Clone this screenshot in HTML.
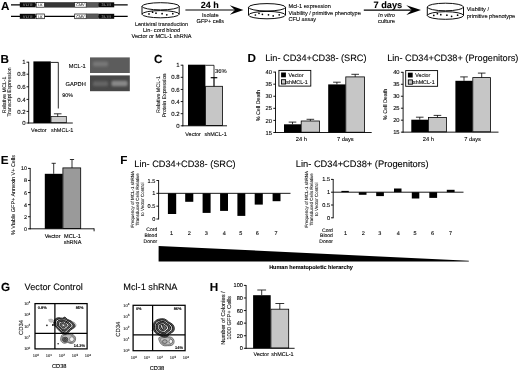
<!DOCTYPE html>
<html lang="en">
<head>
<meta charset="utf-8">
<title>Figure</title>
<style>
html,body{margin:0;padding:0;background:#fff;}
body{width:520px;height:371px;overflow:hidden;}
svg{display:block;font-family:"Liberation Sans",sans-serif;fill:#000;text-rendering:geometricPrecision;}
text{stroke:#000;stroke-width:0.1px;}
</style>
</head>
<body>
<svg width="520" height="371" viewBox="0 0 520 371">
<defs>
<pattern id="stip" width="1.6" height="1.6" patternUnits="userSpaceOnUse"><rect width="1.6" height="1.6" fill="#2c2c2c"/><circle cx="0.8" cy="0.8" r="0.38" fill="#707070"/></pattern>
<pattern id="stip2" width="1.6" height="1.6" patternUnits="userSpaceOnUse"><rect width="1.6" height="1.6" fill="#4e4e4e"/><circle cx="0.8" cy="0.8" r="0.38" fill="#9a9a9a"/></pattern>
<pattern id="stip3" width="1.6" height="1.6" patternUnits="userSpaceOnUse"><rect width="1.6" height="1.6" fill="#d2d2d2"/><circle cx="0.8" cy="0.8" r="0.35" fill="#aaa"/></pattern>
<filter id="b1" x="-20%" y="-50%" width="140%" height="200%"><feGaussianBlur stdDeviation="0.9"/></filter>
<filter id="b2" x="-30%" y="-30%" width="160%" height="160%"><feGaussianBlur stdDeviation="1.2"/></filter>
</defs>
<rect width="520" height="371" fill="#fff"/>
<text x="0.9" y="9.6" font-size="11.7" font-weight="bold">A</text>
<text x="0.6" y="62.6" font-size="11.7" font-weight="bold">B</text>
<text x="154.0" y="63.3" font-size="11.7" font-weight="bold">C</text>
<text x="247.6" y="62.3" font-size="11.7" font-weight="bold">D</text>
<text x="0.8" y="164.1" font-size="11.7" font-weight="bold">E</text>
<text x="120.2" y="163.8" font-size="11.7" font-weight="bold">F</text>
<text x="0.9" y="291.4" font-size="11.7" font-weight="bold">G</text>
<text x="209.8" y="291" font-size="11.7" font-weight="bold">H</text>
<line x1="11.00" y1="4.80" x2="127.70" y2="4.80" stroke="#000" stroke-width="1.15"/>
<rect x="19.80" y="2.30" width="15.80" height="5.00" fill="#0a0a0a"/>
<text x="27.7" y="6.15" font-size="3.8" text-anchor="middle" fill="#ddd" stroke="none">5'LTR</text>
<rect x="36.20" y="2.50" width="8.40" height="4.70" fill="#fff" stroke="#111" stroke-width="0.7"/>
<text x="40.4" y="6.1" font-size="3.4" text-anchor="middle" fill="#777" stroke="none">LK</text>
<rect x="44.90" y="2.40" width="29.50" height="4.80" fill="url(#stip)" stroke="#333" stroke-width="0.5"/>
<rect x="74.70" y="2.50" width="11.50" height="4.70" fill="#fff" stroke="#111" stroke-width="0.7"/>
<text x="80.4" y="6.199999999999999" font-size="3.8" text-anchor="middle" fill="#777" stroke="none">CMV</text>
<rect x="86.50" y="2.40" width="12.20" height="4.80" fill="url(#stip2)" stroke="#333" stroke-width="0.5"/>
<rect x="98.70" y="2.30" width="15.50" height="5.00" fill="#0a0a0a"/>
<text x="106.4" y="6.15" font-size="3.8" text-anchor="middle" fill="#ddd" stroke="none">3'LTR</text>
<line x1="11.00" y1="16.30" x2="127.70" y2="16.30" stroke="#000" stroke-width="1.15"/>
<rect x="19.80" y="13.80" width="15.80" height="5.00" fill="#0a0a0a"/>
<text x="27.7" y="17.650000000000002" font-size="3.8" text-anchor="middle" fill="#ddd" stroke="none">5'LTR</text>
<rect x="36.20" y="14.00" width="8.40" height="4.70" fill="#fff" stroke="#111" stroke-width="0.7"/>
<text x="40.4" y="17.6" font-size="3.4" text-anchor="middle" fill="#777" stroke="none">LK</text>
<rect x="74.70" y="14.00" width="11.50" height="4.70" fill="#fff" stroke="#111" stroke-width="0.7"/>
<text x="80.4" y="17.7" font-size="3.8" text-anchor="middle" fill="#777" stroke="none">CMV</text>
<rect x="86.50" y="13.90" width="12.20" height="4.80" fill="url(#stip2)" stroke="#333" stroke-width="0.5"/>
<rect x="98.70" y="13.80" width="15.50" height="5.00" fill="#0a0a0a"/>
<text x="106.4" y="17.650000000000002" font-size="3.8" text-anchor="middle" fill="#ddd" stroke="none">3'LTR</text>
<ellipse cx="160.6" cy="14.2" rx="18.6" ry="3.6" fill="#fff" stroke="#000" stroke-width="0.95"/>
<line x1="142.00" y1="6.30" x2="142.00" y2="14.20" stroke="#000" stroke-width="0.95"/>
<line x1="179.20" y1="6.30" x2="179.20" y2="14.20" stroke="#000" stroke-width="0.95"/>
<ellipse cx="160.6" cy="6.3" rx="18.6" ry="3.6" fill="none" stroke="#000" stroke-width="0.95"/>
<circle cx="149.0" cy="13.9" r="0.85" fill="#000"/>
<circle cx="152.6" cy="12.2" r="0.85" fill="#000"/>
<circle cx="156.0" cy="13.2" r="0.85" fill="#000"/>
<circle cx="162.1" cy="13.7" r="0.85" fill="#000"/>
<circle cx="166.8" cy="14.8" r="0.85" fill="#000"/>
<circle cx="172.8" cy="13.7" r="0.85" fill="#000"/>
<ellipse cx="267" cy="15.1" rx="18.5" ry="3.7" fill="#fff" stroke="#000" stroke-width="0.95"/>
<line x1="248.50" y1="7.30" x2="248.50" y2="15.10" stroke="#000" stroke-width="0.95"/>
<line x1="285.50" y1="7.30" x2="285.50" y2="15.10" stroke="#000" stroke-width="0.95"/>
<ellipse cx="267" cy="7.3" rx="18.5" ry="3.7" fill="none" stroke="#000" stroke-width="0.95"/>
<circle cx="255.4" cy="15.0" r="0.85" fill="#000"/>
<circle cx="259.0" cy="13.3" r="0.85" fill="#000"/>
<circle cx="262.4" cy="14.3" r="0.85" fill="#000"/>
<circle cx="268.5" cy="14.8" r="0.85" fill="#000"/>
<circle cx="273.2" cy="15.9" r="0.85" fill="#000"/>
<circle cx="279.2" cy="14.8" r="0.85" fill="#000"/>
<ellipse cx="445.4" cy="15.5" rx="18.1" ry="3.8" fill="#fff" stroke="#000" stroke-width="0.95"/>
<line x1="427.30" y1="7.00" x2="427.30" y2="15.50" stroke="#000" stroke-width="0.95"/>
<line x1="463.50" y1="7.00" x2="463.50" y2="15.50" stroke="#000" stroke-width="0.95"/>
<ellipse cx="445.4" cy="7.0" rx="18.1" ry="3.8" fill="none" stroke="#000" stroke-width="0.95"/>
<circle cx="433.8" cy="15.4" r="0.85" fill="#000"/>
<circle cx="437.4" cy="13.7" r="0.85" fill="#000"/>
<circle cx="440.8" cy="14.7" r="0.85" fill="#000"/>
<circle cx="446.9" cy="15.2" r="0.85" fill="#000"/>
<circle cx="451.6" cy="16.3" r="0.85" fill="#000"/>
<circle cx="457.6" cy="15.2" r="0.85" fill="#000"/>
<text x="161.5" y="26.0" font-size="5.45" text-anchor="middle">Lentiviral transduction</text>
<text x="161.5" y="31.9" font-size="5.6" text-anchor="middle">Lin- cord blood</text>
<text x="161.5" y="38.1" font-size="5.6" text-anchor="middle">Vector or MCL-1 shRNA</text>
<line x1="185.40" y1="10.00" x2="236.00" y2="10.00" stroke="#000" stroke-width="1.1"/>
<polygon points="243.4,10.0 229.8,5.2 235.0,10.0 229.8,14.8" fill="#000"/>
<line x1="363.80" y1="10.10" x2="412.80" y2="10.10" stroke="#000" stroke-width="1.1"/>
<polygon points="421.0,10.1 406.3,5.3 411.8,10.1 406.3,14.899999999999999" fill="#000"/>
<text x="209.7" y="7.7" font-size="9" text-anchor="middle" font-weight="bold">24 h</text>
<text x="387.9" y="7.7" font-size="9.2" text-anchor="middle" font-weight="bold">7 days</text>
<text x="210.3" y="17.0" font-size="5.6" text-anchor="middle">Isolate</text>
<text x="210.3" y="23.0" font-size="5.6" text-anchor="middle">GFP+ cells</text>
<text x="386.5" y="16.6" font-size="5.6" text-anchor="middle" font-style="italic">In vitro</text>
<text x="386.5" y="23.2" font-size="5.6" text-anchor="middle">culture</text>
<text x="288.5" y="7.8" font-size="5.6">Mcl-1 expression</text>
<text x="288.5" y="14.6" font-size="5.6">Viability / primitive phenotype</text>
<text x="288.5" y="21.2" font-size="5.6">CFU assay</text>
<text x="466.7" y="11.3" font-size="5.6">Viability /</text>
<text x="466.7" y="18.1" font-size="5.6">primitive phenotype</text>
<rect x="33.40" y="61.40" width="17.40" height="61.60" fill="#000"/>
<rect x="51.00" y="116.60" width="15.30" height="6.10" fill="url(#stip3)" stroke="#000" stroke-width="0.7"/>
<line x1="57.70" y1="113.80" x2="57.70" y2="116.60" stroke="#000" stroke-width="0.8"/>
<line x1="53.90" y1="113.80" x2="61.50" y2="113.80" stroke="#000" stroke-width="0.8"/>
<line x1="28.70" y1="61.80" x2="28.70" y2="123.45" stroke="#000" stroke-width="0.9"/>
<line x1="26.50" y1="62.20" x2="28.70" y2="62.20" stroke="#000" stroke-width="0.9"/>
<text x="25.5" y="64.36" font-size="6.0" text-anchor="end">1</text>
<line x1="26.50" y1="74.20" x2="28.70" y2="74.20" stroke="#000" stroke-width="0.9"/>
<text x="25.5" y="76.36" font-size="6.0" text-anchor="end">0.8</text>
<line x1="26.50" y1="86.80" x2="28.70" y2="86.80" stroke="#000" stroke-width="0.9"/>
<text x="25.5" y="88.96" font-size="6.0" text-anchor="end">0.6</text>
<line x1="26.50" y1="99.40" x2="28.70" y2="99.40" stroke="#000" stroke-width="0.9"/>
<text x="25.5" y="101.56" font-size="6.0" text-anchor="end">0.4</text>
<line x1="26.50" y1="111.40" x2="28.70" y2="111.40" stroke="#000" stroke-width="0.9"/>
<text x="25.5" y="113.56" font-size="6.0" text-anchor="end">0.2</text>
<line x1="26.50" y1="123.00" x2="28.70" y2="123.00" stroke="#000" stroke-width="0.9"/>
<text x="25.5" y="125.16" font-size="6.0" text-anchor="end">0</text>
<line x1="28.25" y1="123.00" x2="72.80" y2="123.00" stroke="#000" stroke-width="0.9"/>
<path d="M50.8 62.4 H58.3 V108.5" fill="none" stroke="#000" stroke-width="0.85" />
<text x="62.3" y="96.6" font-size="5.4">90%</text>
<text x="38.9" y="131.8" font-size="5.5" text-anchor="middle">Vector</text>
<text x="62.2" y="131.8" font-size="5.5" text-anchor="middle">shMCL-1</text>
<text x="6.3" y="94.9" font-size="5.3" text-anchor="middle" textLength="36.6" lengthAdjust="spacingAndGlyphs" stroke="none" fill="#262626" transform="rotate(-90 6.3 94.9)">Relative MCL-1</text>
<text x="11.2" y="92.0" font-size="5.3" text-anchor="middle" textLength="49.2" lengthAdjust="spacingAndGlyphs" stroke="none" fill="#262626" transform="rotate(-90 11.2 92.0)">Transcript Expression</text>
<rect x="90.00" y="57.40" width="39.80" height="15.60" fill="#5c5c5c"/>
<rect x="93" y="61.4" width="15" height="5" rx="1.5" fill="#777" filter="url(#b1)"/>
<rect x="90.00" y="75.40" width="39.80" height="15.80" fill="#484848"/>
<rect x="93" y="81.2" width="15" height="5" rx="1.5" fill="#656565" filter="url(#b1)"/>
<rect x="111.5" y="80.8" width="16" height="5.4" rx="1.5" fill="#888" filter="url(#b1)"/>
<text x="85.8" y="68.4" font-size="5.7" text-anchor="end">MCL-1</text>
<text x="85.8" y="85.6" font-size="5.7" text-anchor="end">GAPDH</text>
<rect x="188.00" y="64.70" width="17.40" height="61.10" fill="#000"/>
<rect x="205.60" y="86.30" width="16.90" height="39.20" fill="#c6c6c6" stroke="#000" stroke-width="0.8"/>
<line x1="214.00" y1="77.70" x2="214.00" y2="86.30" stroke="#000" stroke-width="1.2"/>
<line x1="210.70" y1="77.70" x2="217.30" y2="77.70" stroke="#000" stroke-width="1.2"/>
<line x1="182.90" y1="64.80" x2="182.90" y2="126.25" stroke="#000" stroke-width="0.9"/>
<line x1="180.70" y1="65.20" x2="182.90" y2="65.20" stroke="#000" stroke-width="0.9"/>
<text x="179.7" y="67.36" font-size="6.0" text-anchor="end">1</text>
<line x1="180.70" y1="77.32" x2="182.90" y2="77.32" stroke="#000" stroke-width="0.9"/>
<text x="179.7" y="79.48" font-size="6.0" text-anchor="end">0.8</text>
<line x1="180.70" y1="89.44" x2="182.90" y2="89.44" stroke="#000" stroke-width="0.9"/>
<text x="179.7" y="91.6" font-size="6.0" text-anchor="end">0.6</text>
<line x1="180.70" y1="101.56" x2="182.90" y2="101.56" stroke="#000" stroke-width="0.9"/>
<text x="179.7" y="103.72" font-size="6.0" text-anchor="end">0.4</text>
<line x1="180.70" y1="113.68" x2="182.90" y2="113.68" stroke="#000" stroke-width="0.9"/>
<text x="179.7" y="115.84" font-size="6.0" text-anchor="end">0.2</text>
<line x1="180.70" y1="125.80" x2="182.90" y2="125.80" stroke="#000" stroke-width="0.9"/>
<text x="179.7" y="127.96" font-size="6.0" text-anchor="end">0</text>
<line x1="182.45" y1="125.80" x2="227.00" y2="125.80" stroke="#000" stroke-width="0.9"/>
<path d="M205.4 65.3 H214 V77.7" fill="none" stroke="#000" stroke-width="0.8" />
<text x="215.0" y="73.2" font-size="5.8">36%</text>
<text x="193.0" y="136.4" font-size="5.5" text-anchor="middle">Vector</text>
<text x="215.6" y="136.4" font-size="5.5" text-anchor="middle">shMCL-1</text>
<text x="159.6" y="94.5" font-size="5.3" text-anchor="middle" textLength="36.8" lengthAdjust="spacingAndGlyphs" stroke="none" fill="#262626" transform="rotate(-90 159.6 94.5)">Relative MCL-1</text>
<text x="165.6" y="95.5" font-size="5.25" text-anchor="middle" stroke="none" fill="#262626" transform="rotate(-90 165.6 95.5)">Protein Expression</text>
<text x="265.2" y="60.8" font-size="9.2">Lin- CD34+CD38- (SRC)</text>
<text x="387.2" y="60.5" font-size="9.2">Lin- CD34+CD38+ (Progenitors)</text>
<rect x="284.00" y="124.30" width="17.00" height="8.20" fill="#000"/>
<line x1="292.50" y1="122.10" x2="292.50" y2="124.30" stroke="#000" stroke-width="0.8"/>
<line x1="288.70" y1="122.10" x2="296.30" y2="122.10" stroke="#000" stroke-width="0.8"/>
<rect x="301.20" y="121.00" width="18.20" height="11.20" fill="#c6c6c6" stroke="#000" stroke-width="0.8"/>
<line x1="310.35" y1="119.30" x2="310.35" y2="121.00" stroke="#000" stroke-width="0.8"/>
<line x1="306.55" y1="119.30" x2="314.15" y2="119.30" stroke="#000" stroke-width="0.8"/>
<rect x="328.20" y="84.40" width="17.40" height="48.10" fill="#000"/>
<line x1="336.90" y1="82.20" x2="336.90" y2="84.40" stroke="#000" stroke-width="0.8"/>
<line x1="333.10" y1="82.20" x2="340.70" y2="82.20" stroke="#000" stroke-width="0.8"/>
<rect x="345.80" y="76.90" width="18.70" height="55.30" fill="#c6c6c6" stroke="#000" stroke-width="0.8"/>
<line x1="355.20" y1="74.30" x2="355.20" y2="76.90" stroke="#000" stroke-width="0.8"/>
<line x1="351.40" y1="74.30" x2="359.00" y2="74.30" stroke="#000" stroke-width="0.8"/>
<line x1="275.50" y1="71.70" x2="275.50" y2="132.95" stroke="#000" stroke-width="0.9"/>
<line x1="273.30" y1="72.10" x2="275.50" y2="72.10" stroke="#000" stroke-width="0.9"/>
<text x="272.0" y="74.19" font-size="5.8" text-anchor="end">40</text>
<line x1="273.30" y1="84.18" x2="275.50" y2="84.18" stroke="#000" stroke-width="0.9"/>
<text x="272.0" y="86.27" font-size="5.8" text-anchor="end">35</text>
<line x1="273.30" y1="96.26" x2="275.50" y2="96.26" stroke="#000" stroke-width="0.9"/>
<text x="272.0" y="98.35" font-size="5.8" text-anchor="end">30</text>
<line x1="273.30" y1="108.34" x2="275.50" y2="108.34" stroke="#000" stroke-width="0.9"/>
<text x="272.0" y="110.43" font-size="5.8" text-anchor="end">25</text>
<line x1="273.30" y1="120.42" x2="275.50" y2="120.42" stroke="#000" stroke-width="0.9"/>
<text x="272.0" y="122.51" font-size="5.8" text-anchor="end">20</text>
<line x1="273.30" y1="132.50" x2="275.50" y2="132.50" stroke="#000" stroke-width="0.9"/>
<text x="272.0" y="134.59" font-size="5.8" text-anchor="end">15</text>
<line x1="275.05" y1="132.50" x2="371.70" y2="132.50" stroke="#000" stroke-width="0.9"/>
<rect x="278.90" y="70.40" width="31.90" height="15.70" fill="#fff" stroke="#000" stroke-width="0.9"/>
<rect x="281.10" y="72.50" width="4.80" height="4.80" fill="#000"/>
<rect x="281.50" y="79.70" width="4.10" height="4.30" fill="#c6c6c6" stroke="#000" stroke-width="0.9"/>
<text x="288.5" y="77.0" font-size="5.3">Vector</text>
<text x="286.29999999999995" y="84.0" font-size="5.3">shMCL-1</text>
<text x="301.4" y="141.1" font-size="5.7" text-anchor="middle">24 h</text>
<text x="345.3" y="141.1" font-size="5.7" text-anchor="middle">7 days</text>
<text x="260.4" y="105.6" font-size="5.4" text-anchor="middle" stroke="none" fill="#262626" transform="rotate(-90 260.4 105.6)">% Cell Death</text>
<rect x="411.30" y="119.70" width="16.90" height="12.45" fill="#000"/>
<line x1="419.75" y1="117.20" x2="419.75" y2="119.70" stroke="#000" stroke-width="0.8"/>
<line x1="415.95" y1="117.20" x2="423.55" y2="117.20" stroke="#000" stroke-width="0.8"/>
<rect x="428.40" y="117.40" width="18.00" height="14.45" fill="#c6c6c6" stroke="#000" stroke-width="0.8"/>
<line x1="437.45" y1="115.40" x2="437.45" y2="117.40" stroke="#000" stroke-width="0.8"/>
<line x1="433.65" y1="115.40" x2="441.25" y2="115.40" stroke="#000" stroke-width="0.8"/>
<rect x="455.40" y="80.80" width="17.20" height="51.35" fill="#000"/>
<line x1="464.00" y1="76.90" x2="464.00" y2="80.80" stroke="#000" stroke-width="0.8"/>
<line x1="460.20" y1="76.90" x2="467.80" y2="76.90" stroke="#000" stroke-width="0.8"/>
<rect x="472.80" y="77.60" width="17.70" height="54.25" fill="#c6c6c6" stroke="#000" stroke-width="0.8"/>
<line x1="481.70" y1="73.10" x2="481.70" y2="77.60" stroke="#000" stroke-width="0.8"/>
<line x1="477.90" y1="73.10" x2="485.50" y2="73.10" stroke="#000" stroke-width="0.8"/>
<line x1="403.10" y1="71.90" x2="403.10" y2="132.60" stroke="#000" stroke-width="0.9"/>
<line x1="400.90" y1="72.30" x2="403.10" y2="72.30" stroke="#000" stroke-width="0.9"/>
<text x="399.6" y="74.39" font-size="5.8" text-anchor="end">40</text>
<line x1="400.90" y1="84.27" x2="403.10" y2="84.27" stroke="#000" stroke-width="0.9"/>
<text x="399.6" y="86.36" font-size="5.8" text-anchor="end">35</text>
<line x1="400.90" y1="96.24" x2="403.10" y2="96.24" stroke="#000" stroke-width="0.9"/>
<text x="399.6" y="98.33" font-size="5.8" text-anchor="end">30</text>
<line x1="400.90" y1="108.21" x2="403.10" y2="108.21" stroke="#000" stroke-width="0.9"/>
<text x="399.6" y="110.3" font-size="5.8" text-anchor="end">25</text>
<line x1="400.90" y1="120.18" x2="403.10" y2="120.18" stroke="#000" stroke-width="0.9"/>
<text x="399.6" y="122.27" font-size="5.8" text-anchor="end">20</text>
<line x1="400.90" y1="132.15" x2="403.10" y2="132.15" stroke="#000" stroke-width="0.9"/>
<text x="399.6" y="134.24" font-size="5.8" text-anchor="end">15</text>
<line x1="402.65" y1="132.15" x2="498.50" y2="132.15" stroke="#000" stroke-width="0.9"/>
<rect x="405.70" y="70.60" width="31.90" height="15.70" fill="#fff" stroke="#000" stroke-width="0.9"/>
<rect x="407.90" y="72.70" width="4.80" height="4.80" fill="#000"/>
<rect x="408.30" y="79.90" width="4.10" height="4.30" fill="#c6c6c6" stroke="#000" stroke-width="0.9"/>
<text x="415.3" y="77.2" font-size="5.3">Vector</text>
<text x="413.09999999999997" y="84.2" font-size="5.3">shMCL-1</text>
<text x="428.4" y="141.1" font-size="5.7" text-anchor="middle">24 h</text>
<text x="472.6" y="141.1" font-size="5.7" text-anchor="middle">7 days</text>
<text x="387.0" y="104.4" font-size="5.4" text-anchor="middle" stroke="none" fill="#262626" transform="rotate(-90 387.0 104.4)">% Cell Death</text>
<rect x="44.80" y="173.80" width="17.90" height="55.00" fill="#000"/>
<rect x="62.90" y="167.90" width="17.80" height="60.60" fill="#9a9a9a" stroke="#000" stroke-width="0.8"/>
<line x1="53.70" y1="163.30" x2="53.70" y2="173.80" stroke="#000" stroke-width="0.8"/>
<line x1="51.60" y1="163.30" x2="55.80" y2="163.30" stroke="#000" stroke-width="0.8"/>
<line x1="72.00" y1="159.50" x2="72.00" y2="167.90" stroke="#000" stroke-width="0.8"/>
<line x1="69.90" y1="159.50" x2="74.10" y2="159.50" stroke="#000" stroke-width="0.8"/>
<line x1="30.20" y1="168.00" x2="30.20" y2="229.25" stroke="#000" stroke-width="0.9"/>
<line x1="28.00" y1="168.40" x2="30.20" y2="168.40" stroke="#000" stroke-width="0.9"/>
<text x="27.0" y="170.34" font-size="5.4" text-anchor="end">10</text>
<line x1="28.00" y1="180.48" x2="30.20" y2="180.48" stroke="#000" stroke-width="0.9"/>
<text x="27.0" y="182.42" font-size="5.4" text-anchor="end">8</text>
<line x1="28.00" y1="192.56" x2="30.20" y2="192.56" stroke="#000" stroke-width="0.9"/>
<text x="27.0" y="194.5" font-size="5.4" text-anchor="end">6</text>
<line x1="28.00" y1="204.64" x2="30.20" y2="204.64" stroke="#000" stroke-width="0.9"/>
<text x="27.0" y="206.58" font-size="5.4" text-anchor="end">4</text>
<line x1="28.00" y1="216.72" x2="30.20" y2="216.72" stroke="#000" stroke-width="0.9"/>
<text x="27.0" y="218.66" font-size="5.4" text-anchor="end">2</text>
<line x1="28.00" y1="228.80" x2="30.20" y2="228.80" stroke="#000" stroke-width="0.9"/>
<text x="27.0" y="230.74" font-size="5.4" text-anchor="end">0</text>
<line x1="29.75" y1="228.80" x2="94.10" y2="228.80" stroke="#000" stroke-width="0.9"/>
<line x1="94.10" y1="228.40" x2="94.10" y2="231.30" stroke="#000" stroke-width="0.9"/>
<text x="52.6" y="237.6" font-size="5.6" text-anchor="middle">Vector</text>
<text x="72.5" y="237.6" font-size="5.6" text-anchor="middle">MCL-1</text>
<text x="72.5" y="243.8" font-size="5.6" text-anchor="middle">shRNA</text>
<text x="14.5" y="195.0" font-size="5.45" text-anchor="middle" stroke="none" fill="#262626" transform="rotate(-90 14.5 195.0)">% Viable GFP+ Annexin V+ Cells</text>
<text x="134.3" y="167.0" font-size="9.2">Lin- CD34+CD38- (SRC)</text>
<text x="295.8" y="166.7" font-size="9.3">Lin- CD34+CD38+ (Progenitors)</text>
<rect x="167.90" y="193.33" width="8.30" height="20.67" fill="#000"/>
<rect x="185.20" y="193.33" width="8.10" height="8.47" fill="#000"/>
<rect x="202.60" y="193.33" width="8.00" height="19.57" fill="#000"/>
<rect x="220.10" y="193.33" width="7.90" height="17.57" fill="#000"/>
<rect x="237.40" y="193.33" width="7.90" height="22.57" fill="#000"/>
<rect x="254.70" y="193.33" width="8.10" height="11.27" fill="#000"/>
<rect x="272.60" y="193.33" width="7.90" height="7.87" fill="#000"/>
<line x1="158.60" y1="193.33" x2="290.50" y2="193.33" stroke="#000" stroke-width="0.9"/>
<line x1="158.60" y1="180.10" x2="158.60" y2="219.45" stroke="#000" stroke-width="0.9"/>
<line x1="156.40" y1="180.50" x2="158.60" y2="180.50" stroke="#000" stroke-width="0.9"/>
<text x="155.4" y="182.52" font-size="5.6" text-anchor="end">1.5</text>
<line x1="156.40" y1="193.33" x2="158.60" y2="193.33" stroke="#000" stroke-width="0.9"/>
<text x="155.4" y="195.35" font-size="5.6" text-anchor="end">1</text>
<line x1="156.40" y1="206.17" x2="158.60" y2="206.17" stroke="#000" stroke-width="0.9"/>
<text x="155.4" y="208.18" font-size="5.6" text-anchor="end">0.5</text>
<line x1="156.40" y1="219.00" x2="158.60" y2="219.00" stroke="#000" stroke-width="0.9"/>
<text x="155.4" y="221.02" font-size="5.6" text-anchor="end">0</text>
<text x="171.6" y="235.2" font-size="5.5" text-anchor="middle">1</text>
<text x="189.2" y="235.2" font-size="5.5" text-anchor="middle">2</text>
<text x="206.2" y="235.2" font-size="5.5" text-anchor="middle">3</text>
<text x="224.4" y="235.2" font-size="5.5" text-anchor="middle">4</text>
<text x="240.9" y="235.2" font-size="5.5" text-anchor="middle">5</text>
<text x="257.3" y="235.2" font-size="5.5" text-anchor="middle">6</text>
<text x="276" y="235.2" font-size="5.5" text-anchor="middle">7</text>
<text x="157.2" y="231.4" font-size="5.0" text-anchor="end">Cord</text>
<text x="157.2" y="237.15" font-size="5.0" text-anchor="end">Blood</text>
<text x="157.2" y="242.9" font-size="5.0" text-anchor="end">Donor</text>
<text x="133.6" y="199.3" font-size="4.5" text-anchor="middle" stroke="none" fill="#262626" transform="rotate(-90 133.6 199.3)">Frequency of MCL-1 shRNA</text>
<text x="138.6" y="199.3" font-size="4.5" text-anchor="middle" stroke="none" fill="#262626" transform="rotate(-90 138.6 199.3)">Transduced Cells Relative</text>
<text x="143.6" y="199.3" font-size="4.5" text-anchor="middle" stroke="none" fill="#262626" transform="rotate(-90 143.6 199.3)">to Vector Control</text>
<rect x="341.40" y="190.90" width="7.40" height="1.30" fill="#000"/>
<rect x="358.80" y="192.20" width="7.70" height="2.60" fill="#000"/>
<rect x="376.20" y="192.20" width="7.70" height="3.90" fill="#000"/>
<rect x="394.00" y="188.50" width="7.50" height="3.70" fill="#000"/>
<rect x="411.80" y="192.20" width="7.50" height="6.30" fill="#000"/>
<rect x="429.30" y="192.20" width="7.80" height="5.70" fill="#000"/>
<rect x="446.80" y="189.80" width="7.80" height="2.40" fill="#000"/>
<line x1="333.20" y1="192.20" x2="463.50" y2="192.20" stroke="#000" stroke-width="0.9"/>
<line x1="333.20" y1="179.00" x2="333.20" y2="218.25" stroke="#000" stroke-width="0.9"/>
<line x1="331.00" y1="179.40" x2="333.20" y2="179.40" stroke="#000" stroke-width="0.9"/>
<text x="330.0" y="181.42" font-size="5.6" text-anchor="end">1.5</text>
<line x1="331.00" y1="192.20" x2="333.20" y2="192.20" stroke="#000" stroke-width="0.9"/>
<text x="330.0" y="194.22" font-size="5.6" text-anchor="end">1</text>
<line x1="331.00" y1="205.00" x2="333.20" y2="205.00" stroke="#000" stroke-width="0.9"/>
<text x="330.0" y="207.02" font-size="5.6" text-anchor="end">0.5</text>
<line x1="331.00" y1="217.80" x2="333.20" y2="217.80" stroke="#000" stroke-width="0.9"/>
<text x="330.0" y="219.82" font-size="5.6" text-anchor="end">0</text>
<text x="345.5" y="235.3" font-size="5.5" text-anchor="middle">1</text>
<text x="363.2" y="235.3" font-size="5.5" text-anchor="middle">2</text>
<text x="379.8" y="235.3" font-size="5.5" text-anchor="middle">3</text>
<text x="398.4" y="235.3" font-size="5.5" text-anchor="middle">4</text>
<text x="415" y="235.3" font-size="5.5" text-anchor="middle">5</text>
<text x="432.5" y="235.3" font-size="5.5" text-anchor="middle">6</text>
<text x="450.5" y="235.3" font-size="5.5" text-anchor="middle">7</text>
<text x="332.9" y="231.7" font-size="5.0" text-anchor="end">Cord</text>
<text x="332.9" y="237.45" font-size="5.0" text-anchor="end">Blood</text>
<text x="332.9" y="243.2" font-size="5.0" text-anchor="end">Donor</text>
<text x="307.7" y="199.3" font-size="4.5" text-anchor="middle" stroke="none" fill="#262626" transform="rotate(-90 307.7 199.3)">Frequency of MCL-1 shRNA</text>
<text x="312.7" y="199.3" font-size="4.5" text-anchor="middle" stroke="none" fill="#262626" transform="rotate(-90 312.7 199.3)">Transduced Cells Relative</text>
<text x="317.7" y="199.3" font-size="4.5" text-anchor="middle" stroke="none" fill="#262626" transform="rotate(-90 317.7 199.3)">to Vector Control</text>
<polygon points="158.6,246.0 468.8,260.7 468.8,261.4 158.6,261.4" fill="#000"/>
<text x="311.0" y="269.3" font-size="5.5" text-anchor="middle" font-weight="bold">Human hematopoietic hierarchy</text>
<text x="24.6" y="290.4" font-size="9.2">Vector Control</text>
<text x="123.3" y="290.3" font-size="9.2">Mcl-1 shRNA</text>
<g fill="none" stroke-linejoin="round"><path d="M61.50 335.70 Q62.00 334.40 64.00 334.10 Q66.00 333.80 68.00 333.60 Q70.00 333.40 71.60 334.00 Q73.20 334.60 74.40 335.80 Q75.60 337.00 75.60 338.80 Q75.60 340.60 74.60 341.90 Q73.60 343.20 71.80 343.40 Q70.00 343.60 68.80 342.80 Q67.60 342.00 66.30 342.80 Q65.00 343.60 63.50 343.10 Q62.00 342.60 61.20 341.30 Q60.40 340.00 60.70 338.50 Q61.00 337.00 61.50 335.70Z" fill="#bdbdbd" stroke="#444" stroke-width="0.7"/><path d="M62.80 336.28 Q63.20 335.24 64.80 335.00 Q66.40 334.76 68.00 334.60 Q69.60 334.44 70.88 334.92 Q72.16 335.40 73.12 336.36 Q74.08 337.32 74.08 338.76 Q74.08 340.20 73.28 341.24 Q72.48 342.28 71.04 342.44 Q69.60 342.60 68.64 341.96 Q67.68 341.32 66.64 341.96 Q65.60 342.60 64.40 342.20 Q63.20 341.80 62.56 340.76 Q61.92 339.72 62.16 338.52 Q62.40 337.32 62.80 336.28Z" stroke="#444" stroke-width="0.6"/><path d="M54.70 319.80 Q55.20 318.60 57.00 318.00 Q58.80 317.40 60.70 318.00 Q62.60 318.60 63.80 317.50 Q65.00 316.40 65.90 317.90 Q66.80 319.40 69.00 320.10 Q71.20 320.80 72.30 321.90 Q73.40 323.00 74.40 324.30 Q75.40 325.60 74.60 326.90 Q73.80 328.20 72.30 328.90 Q70.80 329.60 69.80 330.90 Q68.80 332.20 67.30 333.50 Q65.80 334.80 64.30 334.20 Q62.80 333.60 61.10 332.30 Q59.40 331.00 57.90 329.30 Q56.40 327.60 55.00 326.10 Q53.60 324.60 53.90 322.80 Q54.20 321.00 54.70 319.80Z" fill="#5a5a5a" stroke="#222" stroke-width="0.9"/><path d="M56.04 320.66 Q56.46 319.66 57.98 319.15 Q59.49 318.65 61.08 319.15 Q62.68 319.66 63.69 318.73 Q64.70 317.81 65.45 319.07 Q66.21 320.33 68.06 320.92 Q69.90 321.50 70.83 322.43 Q71.75 323.35 72.59 324.44 Q73.43 325.54 72.76 326.63 Q72.09 327.72 70.83 328.31 Q69.57 328.90 68.73 329.99 Q67.89 331.08 66.63 332.17 Q65.37 333.26 64.11 332.76 Q62.85 332.26 61.42 331.16 Q59.99 330.07 58.73 328.64 Q57.47 327.22 56.30 325.96 Q55.12 324.70 55.37 323.18 Q55.62 321.67 56.04 320.66Z" stroke="#000" stroke-width="0.85" fill="#e4e4e4"/><path d="M57.47 321.58 Q57.81 320.78 59.01 320.38 Q60.22 319.97 61.49 320.38 Q62.77 320.78 63.57 320.04 Q64.37 319.30 64.98 320.31 Q65.58 321.31 67.05 321.78 Q68.53 322.25 69.26 322.99 Q70.00 323.73 70.67 324.60 Q71.34 325.47 70.81 326.34 Q70.27 327.21 69.26 327.68 Q68.26 328.15 67.59 329.02 Q66.92 329.89 65.91 330.76 Q64.91 331.63 63.90 331.23 Q62.90 330.83 61.76 329.96 Q60.62 329.09 59.62 327.95 Q58.61 326.81 57.67 325.80 Q56.73 324.80 56.94 323.59 Q57.14 322.39 57.47 321.58Z" stroke="#000" stroke-width="0.85" fill="#666"/><path d="M58.90 322.50 Q59.15 321.90 60.05 321.60 Q60.95 321.30 61.90 321.60 Q62.85 321.90 63.45 321.35 Q64.05 320.80 64.50 321.55 Q64.95 322.30 66.05 322.65 Q67.15 323.00 67.70 323.55 Q68.25 324.10 68.75 324.75 Q69.25 325.40 68.85 326.05 Q68.45 326.70 67.70 327.05 Q66.95 327.40 66.45 328.05 Q65.95 328.70 65.20 329.35 Q64.45 330.00 63.70 329.70 Q62.95 329.40 62.10 328.75 Q61.25 328.10 60.50 327.25 Q59.75 326.40 59.05 325.65 Q58.35 324.90 58.50 324.00 Q58.65 323.10 58.90 322.50Z" stroke="#000" stroke-width="0.8" fill="#e8e8e8"/><path d="M60.33 323.42 Q60.49 323.02 61.09 322.82 Q61.68 322.63 62.31 322.82 Q62.94 323.02 63.33 322.66 Q63.73 322.30 64.02 322.79 Q64.32 323.29 65.05 323.52 Q65.77 323.75 66.14 324.11 Q66.50 324.47 66.83 324.90 Q67.16 325.33 66.90 325.76 Q66.63 326.19 66.14 326.42 Q65.64 326.65 65.31 327.08 Q64.98 327.51 64.49 327.94 Q63.99 328.37 63.50 328.17 Q63.00 327.97 62.44 327.54 Q61.88 327.11 61.38 326.55 Q60.89 325.99 60.43 325.50 Q59.97 325.00 60.06 324.41 Q60.16 323.81 60.33 323.42Z" stroke="#000" stroke-width="0.8" fill="#777"/><path d="M61.84 324.39 Q61.91 324.21 62.19 324.12 Q62.45 324.03 62.74 324.12 Q63.02 324.21 63.20 324.04 Q63.38 323.88 63.52 324.11 Q63.66 324.33 63.98 324.43 Q64.31 324.54 64.48 324.70 Q64.64 324.87 64.80 325.06 Q64.95 325.26 64.83 325.45 Q64.70 325.65 64.48 325.75 Q64.25 325.86 64.10 326.06 Q63.95 326.25 63.73 326.44 Q63.51 326.64 63.28 326.55 Q63.05 326.46 62.80 326.26 Q62.55 326.07 62.32 325.81 Q62.09 325.56 61.89 325.34 Q61.68 325.11 61.72 324.84 Q61.77 324.57 61.84 324.39Z" stroke="#000" stroke-width="0.6" fill="#eee"/><ellipse cx="71.8" cy="339.2" rx="2.3" ry="2.4" stroke="#555" stroke-width="0.6" fill="#f4f4f4"/><ellipse cx="65.2" cy="339.4" rx="2.6" ry="2.2" stroke="#222" stroke-width="0.7" fill="#777"/><ellipse cx="65.2" cy="339.4" rx="1.1" ry="0.9" stroke="#111" stroke-width="0.6"/><path d="M48.6 319.6 q2.6 -1.4 5 0.6 q0.2 2 -2.4 2.2 q-2.6 -0.4 -2.6 -2.8z" fill="#c4c4c4" stroke="#999" stroke-width="0.5"/><path d="M71.8 321.6 q3.2 0.2 4.2 3.2 q0.2 2.6 -2.6 3.6" stroke="#666" stroke-width="0.6"/><circle cx="46.9" cy="325.4" r="0.8" fill="#111"/><circle cx="58.1" cy="343.8" r="0.75" fill="#111"/><circle cx="52.9" cy="325" r="0.9" fill="#000"/><circle cx="54.2" cy="322.4" r="0.7" fill="#222"/></g>
<rect x="35.00" y="303.60" width="52.10" height="45.30" fill="none" stroke="#000" stroke-width="1.25"/>
<line x1="54.90" y1="303.60" x2="54.90" y2="348.90" stroke="#000" stroke-width="1.25"/>
<line x1="35.00" y1="333.30" x2="87.10" y2="333.30" stroke="#000" stroke-width="1.25"/>
<text x="27.2" y="305.1" font-size="4" text-anchor="middle" fill="#222" stroke="none">10<tspan dy="-1.7" font-size="3">4</tspan></text>
<text x="35.8" y="357.2" font-size="4" text-anchor="middle" fill="#222" stroke="none">10<tspan dy="-1.7" font-size="3">0</tspan></text>
<text x="27.2" y="316.4" font-size="4" text-anchor="middle" fill="#222" stroke="none">10<tspan dy="-1.7" font-size="3">3</tspan></text>
<text x="48.8" y="357.2" font-size="4" text-anchor="middle" fill="#222" stroke="none">10<tspan dy="-1.7" font-size="3">1</tspan></text>
<text x="27.2" y="327.8" font-size="4" text-anchor="middle" fill="#222" stroke="none">10<tspan dy="-1.7" font-size="3">2</tspan></text>
<text x="61.8" y="357.2" font-size="4" text-anchor="middle" fill="#222" stroke="none">10<tspan dy="-1.7" font-size="3">2</tspan></text>
<text x="27.2" y="339.1" font-size="4" text-anchor="middle" fill="#222" stroke="none">10<tspan dy="-1.7" font-size="3">1</tspan></text>
<text x="74.9" y="357.2" font-size="4" text-anchor="middle" fill="#222" stroke="none">10<tspan dy="-1.7" font-size="3">3</tspan></text>
<text x="27.2" y="350.4" font-size="4" text-anchor="middle" fill="#222" stroke="none">10<tspan dy="-1.7" font-size="3">0</tspan></text>
<text x="87.9" y="357.2" font-size="4" text-anchor="middle" fill="#222" stroke="none">10<tspan dy="-1.7" font-size="3">4</tspan></text>
<text x="22.7" y="327.4" font-size="5.9" text-anchor="middle" stroke="none" fill="#262626" transform="rotate(-90 22.7 327.4)">CD34</text>
<text x="59.2" y="368.4" font-size="5.7" text-anchor="middle">CD38</text>
<text x="37.8" y="308.5" font-size="3.9" font-weight="bold" fill="#111" stroke="none">0.8%</text>
<text x="83.5" y="308.5" font-size="3.9" text-anchor="end" font-weight="bold" fill="#111" stroke="none">85%</text>
<text x="84.89999999999999" y="346.7" font-size="3.9" text-anchor="end" font-weight="bold" fill="#111" stroke="none">14.2%</text>
<g fill="none" stroke-linejoin="round"><path d="M158.80 339.30 Q158.20 337.20 160.60 336.90 Q163.00 336.60 165.50 336.60 Q168.00 336.60 170.00 336.90 Q172.00 337.20 173.10 338.60 Q174.20 340.00 174.10 341.80 Q174.00 343.60 172.80 344.70 Q171.60 345.80 169.60 345.70 Q167.60 345.60 166.00 345.80 Q164.40 346.00 162.80 345.20 Q161.20 344.40 160.30 342.90 Q159.40 341.40 158.80 339.30Z" fill="#c2c2c2" stroke="#444" stroke-width="0.7"/><path d="M160.52 339.76 Q160.05 338.12 161.92 337.89 Q163.79 337.66 165.74 337.66 Q167.69 337.66 169.25 337.89 Q170.81 338.12 171.67 339.22 Q172.53 340.31 172.45 341.71 Q172.37 343.12 171.44 343.97 Q170.50 344.83 168.94 344.75 Q167.38 344.68 166.13 344.83 Q164.88 344.99 163.64 344.36 Q162.39 343.74 161.69 342.57 Q160.98 341.40 160.52 339.76Z" stroke="#555" stroke-width="0.6"/><path d="M153.90 330.50 Q152.80 328.00 153.30 324.90 Q153.80 321.80 155.90 320.40 Q158.00 319.00 161.50 318.70 Q165.00 318.40 166.70 320.20 Q168.40 322.00 170.80 323.10 Q173.20 324.20 174.00 326.60 Q174.80 329.00 173.80 330.70 Q172.80 332.40 171.10 333.00 Q169.40 333.60 168.60 335.20 Q167.80 336.80 165.70 337.10 Q163.60 337.40 161.40 336.30 Q159.20 335.20 157.10 334.10 Q155.00 333.00 153.90 330.50Z" fill="#555" stroke="#222" stroke-width="0.9"/><path d="M155.18 330.03 Q154.24 327.91 154.67 325.27 Q155.09 322.64 156.88 321.45 Q158.66 320.26 161.63 320.00 Q164.61 319.75 166.06 321.28 Q167.50 322.81 169.54 323.75 Q171.58 324.68 172.26 326.72 Q172.94 328.76 172.09 330.20 Q171.24 331.65 169.80 332.16 Q168.35 332.67 167.67 334.03 Q166.99 335.39 165.20 335.64 Q163.42 335.90 161.55 334.96 Q159.68 334.03 157.89 333.09 Q156.11 332.16 155.18 330.03Z" stroke="#000" stroke-width="0.85" fill="#dcdcdc"/><path d="M156.54 329.54 Q155.78 327.81 156.12 325.67 Q156.47 323.54 157.92 322.57 Q159.36 321.60 161.78 321.40 Q164.19 321.19 165.37 322.43 Q166.54 323.67 168.20 324.43 Q169.85 325.19 170.40 326.85 Q170.96 328.50 170.27 329.68 Q169.58 330.85 168.40 331.26 Q167.23 331.68 166.68 332.78 Q166.13 333.89 164.68 334.09 Q163.23 334.30 161.71 333.54 Q160.19 332.78 158.74 332.02 Q157.29 331.26 156.54 329.54Z" stroke="#000" stroke-width="0.85" fill="#5e5e5e"/><path d="M157.98 329.01 Q157.41 327.71 157.67 326.10 Q157.93 324.49 159.02 323.76 Q160.11 323.03 161.93 322.88 Q163.75 322.72 164.64 323.66 Q165.52 324.59 166.77 325.16 Q168.02 325.74 168.43 326.98 Q168.85 328.23 168.33 329.12 Q167.81 330.00 166.92 330.31 Q166.04 330.62 165.62 331.46 Q165.21 332.29 164.12 332.44 Q163.02 332.60 161.88 332.03 Q160.74 331.46 159.64 330.88 Q158.55 330.31 157.98 329.01Z" stroke="#000" stroke-width="0.8" fill="#e2e2e2"/><path d="M159.43 328.49 Q159.04 327.61 159.22 326.52 Q159.39 325.44 160.12 324.95 Q160.86 324.46 162.09 324.36 Q163.31 324.25 163.91 324.88 Q164.50 325.51 165.34 325.89 Q166.18 326.28 166.46 327.12 Q166.74 327.96 166.39 328.55 Q166.04 329.15 165.44 329.36 Q164.85 329.57 164.57 330.13 Q164.29 330.69 163.56 330.79 Q162.82 330.90 162.05 330.51 Q161.28 330.13 160.55 329.75 Q159.81 329.36 159.43 328.49Z" stroke="#000" stroke-width="0.8" fill="#6a6a6a"/><ellipse cx="161.7" cy="326.6" rx="1.1" ry="3.1" transform="rotate(-22 161.7 326.6)" stroke="#000" stroke-width="0.7" fill="#ddd"/><ellipse cx="170.8" cy="341.4" rx="1.8" ry="2.2" stroke="#444" stroke-width="0.6" fill="#f4f4f4"/><ellipse cx="164.8" cy="341.6" rx="2.4" ry="1.9" stroke="#333" stroke-width="0.6" fill="#aaa"/><circle cx="152.4" cy="330.4" r="0.7" fill="#222"/></g>
<rect x="133.10" y="305.30" width="52.00" height="45.40" fill="none" stroke="#000" stroke-width="1.25"/>
<line x1="152.60" y1="305.30" x2="152.60" y2="350.70" stroke="#000" stroke-width="1.25"/>
<line x1="133.10" y1="334.90" x2="185.10" y2="334.90" stroke="#000" stroke-width="1.25"/>
<text x="126.4" y="306.8" font-size="4" text-anchor="middle" fill="#222" stroke="none">10<tspan dy="-1.7" font-size="3">4</tspan></text>
<text x="133.9" y="359.2" font-size="4" text-anchor="middle" fill="#222" stroke="none">10<tspan dy="-1.7" font-size="3">0</tspan></text>
<text x="126.4" y="318.1" font-size="4" text-anchor="middle" fill="#222" stroke="none">10<tspan dy="-1.7" font-size="3">3</tspan></text>
<text x="146.9" y="359.2" font-size="4" text-anchor="middle" fill="#222" stroke="none">10<tspan dy="-1.7" font-size="3">1</tspan></text>
<text x="126.4" y="329.5" font-size="4" text-anchor="middle" fill="#222" stroke="none">10<tspan dy="-1.7" font-size="3">2</tspan></text>
<text x="159.9" y="359.2" font-size="4" text-anchor="middle" fill="#222" stroke="none">10<tspan dy="-1.7" font-size="3">2</tspan></text>
<text x="126.4" y="340.9" font-size="4" text-anchor="middle" fill="#222" stroke="none">10<tspan dy="-1.7" font-size="3">1</tspan></text>
<text x="172.9" y="359.2" font-size="4" text-anchor="middle" fill="#222" stroke="none">10<tspan dy="-1.7" font-size="3">3</tspan></text>
<text x="126.4" y="352.2" font-size="4" text-anchor="middle" fill="#222" stroke="none">10<tspan dy="-1.7" font-size="3">0</tspan></text>
<text x="185.9" y="359.2" font-size="4" text-anchor="middle" fill="#222" stroke="none">10<tspan dy="-1.7" font-size="3">4</tspan></text>
<text x="120.2" y="329.2" font-size="5.9" text-anchor="middle" stroke="none" fill="#262626" transform="rotate(-90 120.2 329.2)">CD34</text>
<text x="157.0" y="370.2" font-size="5.7" text-anchor="middle">CD38</text>
<text x="135.9" y="310.2" font-size="3.9" font-weight="bold" fill="#111" stroke="none">0%</text>
<text x="181.5" y="310.2" font-size="3.9" text-anchor="end" font-weight="bold" fill="#111" stroke="none">86%</text>
<text x="182.9" y="348.5" font-size="3.9" text-anchor="end" font-weight="bold" fill="#111" stroke="none">14%</text>
<rect x="253.10" y="295.20" width="17.60" height="53.10" fill="#000"/>
<rect x="270.90" y="309.20" width="17.80" height="38.80" fill="#c6c6c6" stroke="#000" stroke-width="0.8"/>
<line x1="261.70" y1="290.00" x2="261.70" y2="295.20" stroke="#000" stroke-width="0.8"/>
<line x1="257.30" y1="290.00" x2="266.10" y2="290.00" stroke="#000" stroke-width="0.8"/>
<line x1="279.80" y1="303.50" x2="279.80" y2="309.20" stroke="#000" stroke-width="0.8"/>
<line x1="275.40" y1="303.50" x2="284.20" y2="303.50" stroke="#000" stroke-width="0.8"/>
<line x1="246.10" y1="285.00" x2="246.10" y2="348.75" stroke="#000" stroke-width="0.9"/>
<line x1="243.90" y1="285.40" x2="246.10" y2="285.40" stroke="#000" stroke-width="0.9"/>
<text x="242.9" y="287.42" font-size="5.6" text-anchor="end">100</text>
<line x1="243.90" y1="297.98" x2="246.10" y2="297.98" stroke="#000" stroke-width="0.9"/>
<text x="242.9" y="300.0" font-size="5.6" text-anchor="end">80</text>
<line x1="243.90" y1="310.56" x2="246.10" y2="310.56" stroke="#000" stroke-width="0.9"/>
<text x="242.9" y="312.58" font-size="5.6" text-anchor="end">60</text>
<line x1="243.90" y1="323.14" x2="246.10" y2="323.14" stroke="#000" stroke-width="0.9"/>
<text x="242.9" y="325.16" font-size="5.6" text-anchor="end">40</text>
<line x1="243.90" y1="335.72" x2="246.10" y2="335.72" stroke="#000" stroke-width="0.9"/>
<text x="242.9" y="337.74" font-size="5.6" text-anchor="end">20</text>
<line x1="243.90" y1="348.30" x2="246.10" y2="348.30" stroke="#000" stroke-width="0.9"/>
<text x="242.9" y="350.32" font-size="5.6" text-anchor="end">0</text>
<line x1="245.65" y1="348.30" x2="294.60" y2="348.30" stroke="#000" stroke-width="0.9"/>
<text x="261.2" y="356.4" font-size="5.5" text-anchor="middle">Vector</text>
<text x="282.5" y="356.4" font-size="5.5" text-anchor="middle">shMCL-1</text>
<text x="224.7" y="318.0" font-size="5.7" text-anchor="middle" stroke="none" fill="#262626" transform="rotate(-90 224.7 318.0)">Number of Colonies /</text>
<text x="231.2" y="318.0" font-size="5.7" text-anchor="middle" stroke="none" fill="#262626" transform="rotate(-90 231.2 318.0)">1000 GFP+ Cells</text>
</svg>
</body>
</html>
